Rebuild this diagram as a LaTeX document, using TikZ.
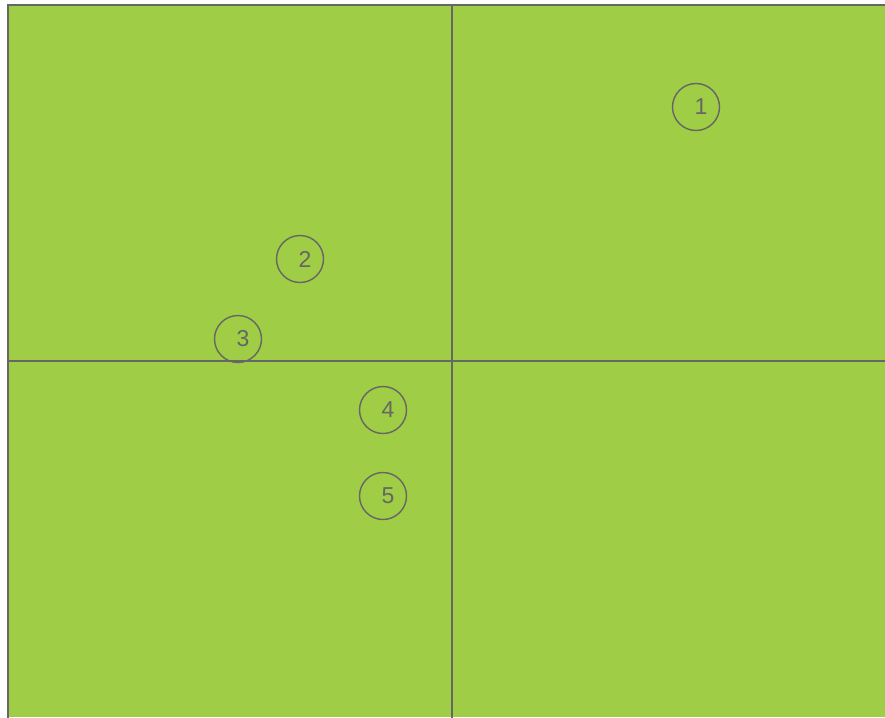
\documentclass[tikz,border=0pt]{standalone}
\usepackage{fontspec}
\setmainfont{Liberation Sans}
\definecolor{fieldgreen}{HTML}{9FCD45}
\definecolor{linegray}{HTML}{666666}
\begin{document}
\begin{tikzpicture}[x=1pt,y=-1pt,
  border/.style={draw=linegray,line width=1.6pt},
  num/.style={circle,draw=linegray,line width=1.4pt,minimum size=47pt,inner sep=0pt,
    text=linegray,font=\fontsize{23}{23}\selectfont}]
\useasboundingbox (0,0) rectangle (885,717);
\fill[white] (0,0) rectangle (885,717);
\fill[fieldgreen] (8,5) rectangle (885,717);
\coordinate (tl) at (8,5);
\coordinate (tr) at (886,5);
\coordinate (bl) at (8,718);
\coordinate (vt) at (452,5);
\coordinate (vb) at (452,718);
\coordinate (hl) at (8,361);
\coordinate (hr) at (886,361);
\draw[border] (bl) -- (tl) -- (tr);
\draw[border] (vt) -- (vb);
\draw[border] (hl) -- (hr);
\node[num] (n1) at (696,107) {\hspace*{10pt}1};
\node[num] (n2) at (300,259) {\hspace*{10pt}2};
\node[num] (n3) at (238,339) {\hspace*{10pt}3};
\node[num] (n4) at (383,410) {\hspace*{10pt}4};
\node[num] (n5) at (383,496) {\hspace*{10pt}5};
\end{tikzpicture}
\end{document}
